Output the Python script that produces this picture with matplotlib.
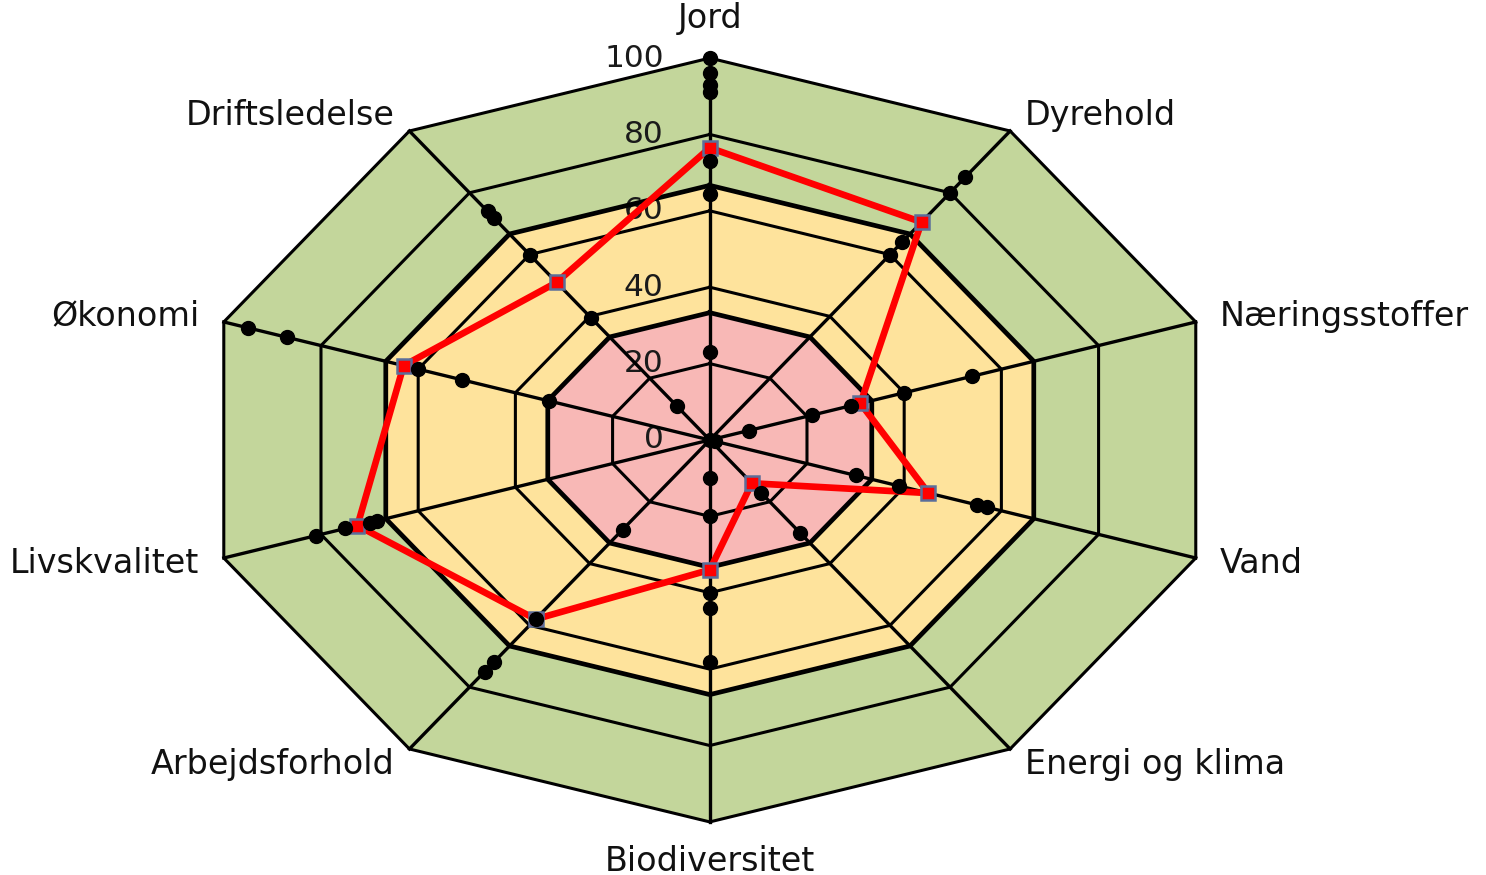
import matplotlib.pyplot as plt
import numpy as np

categories = [
    "Jord", "Dyrehold", "Næringsstoffer", "Vand", "Energi og klima",
    "Biodiversitet", "Arbejdsforhold", "Livskvalitet", "Økonomi", "Driftsledelse",
]

# the farm (red line)
farm_values = [76.5, 70.5, 31, 45, 14, 34, 58, 72.5, 63, 51]

# other farms (black dots), one list per category
jord_dots = [100, 96, 93, 91, 73, 64.5, 23]
dyrehold_dots = [85, 80, 64, 60]
naering_dots = [8, 21, 29, 40, 54]
vand_dots = [1, 30, 39, 55, 57]
energi_dots = [17, 30]
biodiv_dots = [10, 20, 40, 44, 58]
arbejd_dots = [29, 58, 72, 75]
livs_dots = [68.5, 70, 75, 81]
oekonomi_dots = [33, 51, 60, 87, 95]
drift_dots = [11, 39.5, 60, 72, 74]
other_dots = [
    jord_dots, dyrehold_dots, naering_dots, vand_dots, energi_dots,
    biodiv_dots, arbejd_dots, livs_dots, oekonomi_dots, drift_dots,
]

tick_values = [0, 20, 40, 60, 80, 100]
band_limits = [100 / 3, 200 / 3, 100]
band_colors = ["#F8B8B6", "#FEE39C", "#C3D69B"]

GREEN, YELLOW, PINK = band_colors[2], band_colors[1], band_colors[0]


def main():
    n = len(categories)
    theta = np.arange(n) * 2 * np.pi / n
    sx, sy = np.sin(theta), np.cos(theta)
    sx_c, sy_c = np.append(sx, sx[0]), np.append(sy, sy[0])

    fig = plt.figure(figsize=(14.86, 8.75), dpi=100)
    ax = fig.add_axes([0, 0, 1, 1])
    ax.set_xlim(-138.9, 151.9)
    ax.set_ylim(-113.9, 115.2)
    ax.axis("off")

    # coloured bands, outer first
    ax.fill(100 * sx_c, 100 * sy_c, color=GREEN, zorder=1, lw=0)
    ax.fill(band_limits[1] * sx_c, band_limits[1] * sy_c, color=YELLOW, zorder=1.1, lw=0)
    ax.fill(band_limits[0] * sx_c, band_limits[0] * sy_c, color=PINK, zorder=1.2, lw=0)

    # tick labels along the Jord axis
    for v in tick_values:
        ax.text(-9.0, v, str(v), ha="right", va="center", fontsize=22.5,
                color="#1a1a1a", zorder=2)

    # grid rings
    for v in tick_values[1:]:
        ax.plot(v * sx_c, v * sy_c, color="black", lw=2.2, zorder=3)
    for v in band_limits[:2]:
        ax.plot(v * sx_c, v * sy_c, color="black", lw=3.4, zorder=3)

    # spokes
    for i in range(n):
        ax.plot([0, 100 * sx[i]], [0, 100 * sy[i]], color="black", lw=2.4, zorder=3)

    # farm line
    fv = np.array(farm_values + farm_values[:1])
    ax.plot(fv * sx_c, fv * sy_c, color="#FF0000", lw=4.8, zorder=4)
    ax.plot(np.array(farm_values) * sx, np.array(farm_values) * sy, ls="none",
            marker="s", ms=9.5, mfc="#FF0000", mec="#5B6E9A", mew=1.8, zorder=5)

    # other farms
    for i, vals in enumerate(other_dots):
        vals = np.array(vals)
        ax.plot(vals * sx[i], vals * sy[i], ls="none", marker="o", ms=10,
                color="black", zorder=6)
    ax.plot([0], [0], ls="none", marker="o", ms=10, color="black", zorder=6)

    # category labels
    for i, name in enumerate(categories):
        if abs(sx[i]) < 1e-6:
            r, ha = 110.3, "center"
        else:
            r, ha = 105, ("left" if sx[i] > 0 else "right")
        ax.text(r * sx[i], r * sy[i], name, ha=ha, va="center", fontsize=24,
                color="#111111", zorder=7)

    fig.savefig("out.png", dpi=100)
    plt.close(fig)


if __name__ == "__main__":
    main()
